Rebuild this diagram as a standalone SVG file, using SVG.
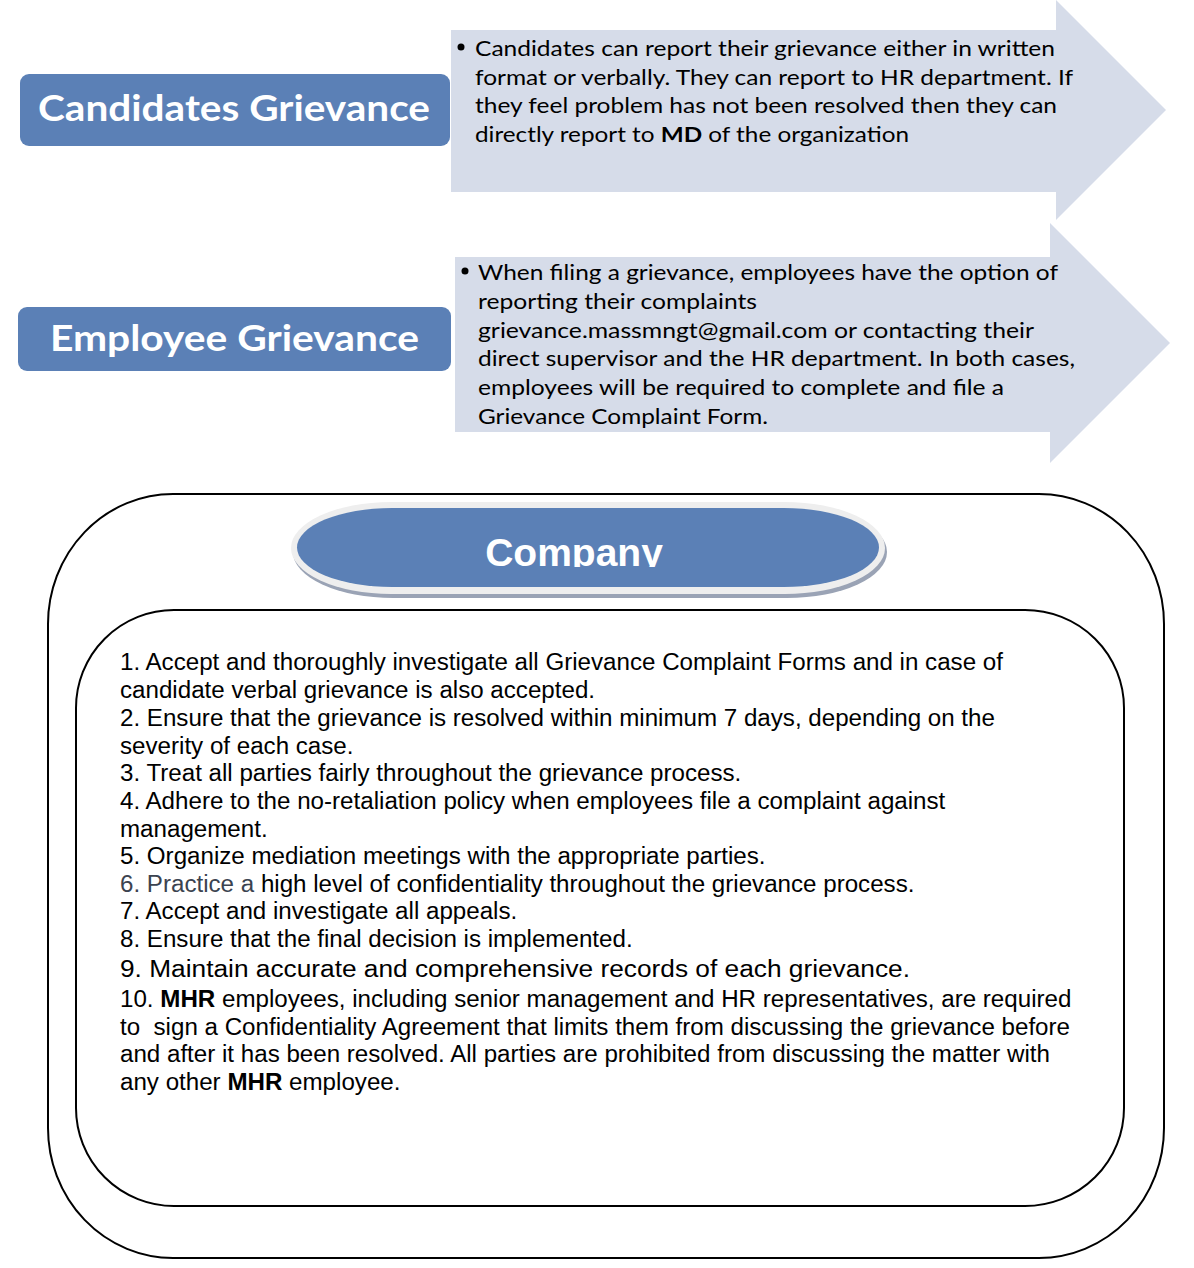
<svg xmlns="http://www.w3.org/2000/svg" width="1194" height="1268" viewBox="0 0 1194 1268">
<style>
.hdr{fill:#5b80b6}
.hdrt{font-family:Lato,"Open Sans",sans-serif;font-weight:bold;font-size:36px;fill:#ffffff}
.arr{fill:#d6dce9}
.at{font-family:Lato,"Open Sans",sans-serif;font-size:21px;fill:#000}
.bt{font-family:"Liberation Sans",Arial,sans-serif;font-size:24.15px;fill:#000}
.frame{fill:none;stroke:#000;stroke-width:2}
</style>
<defs>
<clipPath id="compClip"><rect x="290" y="500" width="600" height="67"/></clipPath>
</defs>
<rect width="1194" height="1268" fill="#ffffff"/>

<g id="arrow-candidates">
<polygon class="arr" points="451,30 1056,30 1056,0 1166,110 1056,220 1056,192 451,192"/>
<circle cx="461" cy="47" r="3.5" fill="#000"/>
<text class="at" x="475" y="56" textLength="580" lengthAdjust="spacingAndGlyphs">Candidates can report their grievance either in written</text>
<text class="at" x="475" y="84.5" textLength="598" lengthAdjust="spacingAndGlyphs">format or verbally. They can report to HR department. If</text>
<text class="at" x="475" y="113" textLength="582" lengthAdjust="spacingAndGlyphs">they feel problem has not been resolved then they can</text>
<text class="at" x="475" y="141.5" textLength="434" lengthAdjust="spacingAndGlyphs">directly report to <tspan font-weight="bold">MD</tspan> of the organization</text>
</g>

<g id="arrow-employee">
<polygon class="arr" points="455,257 1050,257 1050,223 1170,343 1050,463 1050,432 455,432"/>
<circle cx="465" cy="271" r="3.5" fill="#000"/>
<text class="at" x="478" y="280" textLength="580" lengthAdjust="spacingAndGlyphs">When filing a grievance, employees have the option of</text>
<text class="at" x="478" y="308.8" textLength="279" lengthAdjust="spacingAndGlyphs">reporting their complaints</text>
<text class="at" x="478" y="337.6" textLength="556" lengthAdjust="spacingAndGlyphs">grievance.massmngt@gmail.com or contacting their</text>
<text class="at" x="478" y="366.4" textLength="597" lengthAdjust="spacingAndGlyphs">direct supervisor and the HR department. In both cases,</text>
<text class="at" x="478" y="395.2" textLength="526" lengthAdjust="spacingAndGlyphs">employees will be required to complete and file a</text>
<text class="at" x="478" y="424" textLength="290" lengthAdjust="spacingAndGlyphs">Grievance Complaint Form.</text>
</g>

<g id="node-candidates">
<rect class="hdr" x="20" y="74" width="430" height="72" rx="9"/>
<text class="hdrt" x="38" y="121" textLength="392" lengthAdjust="spacingAndGlyphs">Candidates Grievance</text>
</g>

<g id="node-employee">
<rect class="hdr" x="18" y="307" width="433" height="64" rx="9"/>
<text class="hdrt" x="50" y="351" textLength="369" lengthAdjust="spacingAndGlyphs">Employee Grievance</text>
</g>

<g id="node-company">
<path class="frame" d="M173,494 H1039 A125,130 0 0 1 1164,624 V1128 A125,130 0 0 1 1039,1258 H173 A125,130 0 0 1 48,1128 V624 A125,130 0 0 1 173,494 Z"/>
<rect x="293" y="506" width="594" height="92" rx="100" ry="46" fill="#9aa3b5"/>
<rect x="291" y="502" width="594" height="92" rx="100" ry="46" fill="#eeeeee"/>
<rect x="297" y="508" width="582" height="79" rx="95" ry="40" fill="#5b80b6"/>
<g clip-path="url(#compClip)">
<text x="574" y="566" text-anchor="middle" font-family="'Liberation Sans',Arial,sans-serif" font-weight="bold" font-size="39" fill="#ffffff">Company</text>
</g>
</g>

<g id="node-company-rules">
<path class="frame" d="M174,610 H1025 A99,98 0 0 1 1124,708 V1108 A99,98 0 0 1 1025,1206 H174 A98,98 0 0 1 76,1108 V708 A98,98 0 0 1 174,610 Z"/>
<text class="bt" x="120" y="670">1. Accept and thoroughly investigate all Grievance Complaint Forms and in case of</text>
<text class="bt" x="120" y="698">candidate verbal grievance is also accepted.</text>
<text class="bt" x="120" y="726">2. Ensure that the grievance is resolved within minimum 7 days, depending on the</text>
<text class="bt" x="120" y="754">severity of each case.</text>
<text class="bt" x="120" y="781">3. Treat all parties fairly throughout the grievance process.</text>
<text class="bt" x="120" y="809">4. Adhere to the no-retaliation policy when employees file a complaint against</text>
<text class="bt" x="120" y="837">management.</text>
<text class="bt" x="120" y="864">5. Organize mediation meetings with the appropriate parties.</text>
<text class="bt" x="120" y="892"><tspan fill="#3b4350">6. Practice a</tspan> high level of confidentiality throughout the grievance process.</text>
<text class="bt" x="120" y="919">7. Accept and investigate all appeals.</text>
<text class="bt" x="120" y="947">8. Ensure that the final decision is implemented.</text>
<text class="bt" x="120" y="977" font-size="27" textLength="790" lengthAdjust="spacingAndGlyphs">9. Maintain accurate and comprehensive records of each grievance.</text>
<text class="bt" x="120" y="1007">10. <tspan font-weight="bold">MHR</tspan> employees, including senior management and HR representatives, are required</text>
<text class="bt" x="120" y="1035" xml:space="preserve">to  sign a Confidentiality Agreement that limits them from discussing the grievance before</text>
<text class="bt" x="120" y="1062">and after it has been resolved. All parties are prohibited from discussing the matter with</text>
<text class="bt" x="120" y="1090">any other <tspan font-weight="bold">MHR</tspan> employee.</text>
</g>

<g id="connectors"></g>
</svg>
